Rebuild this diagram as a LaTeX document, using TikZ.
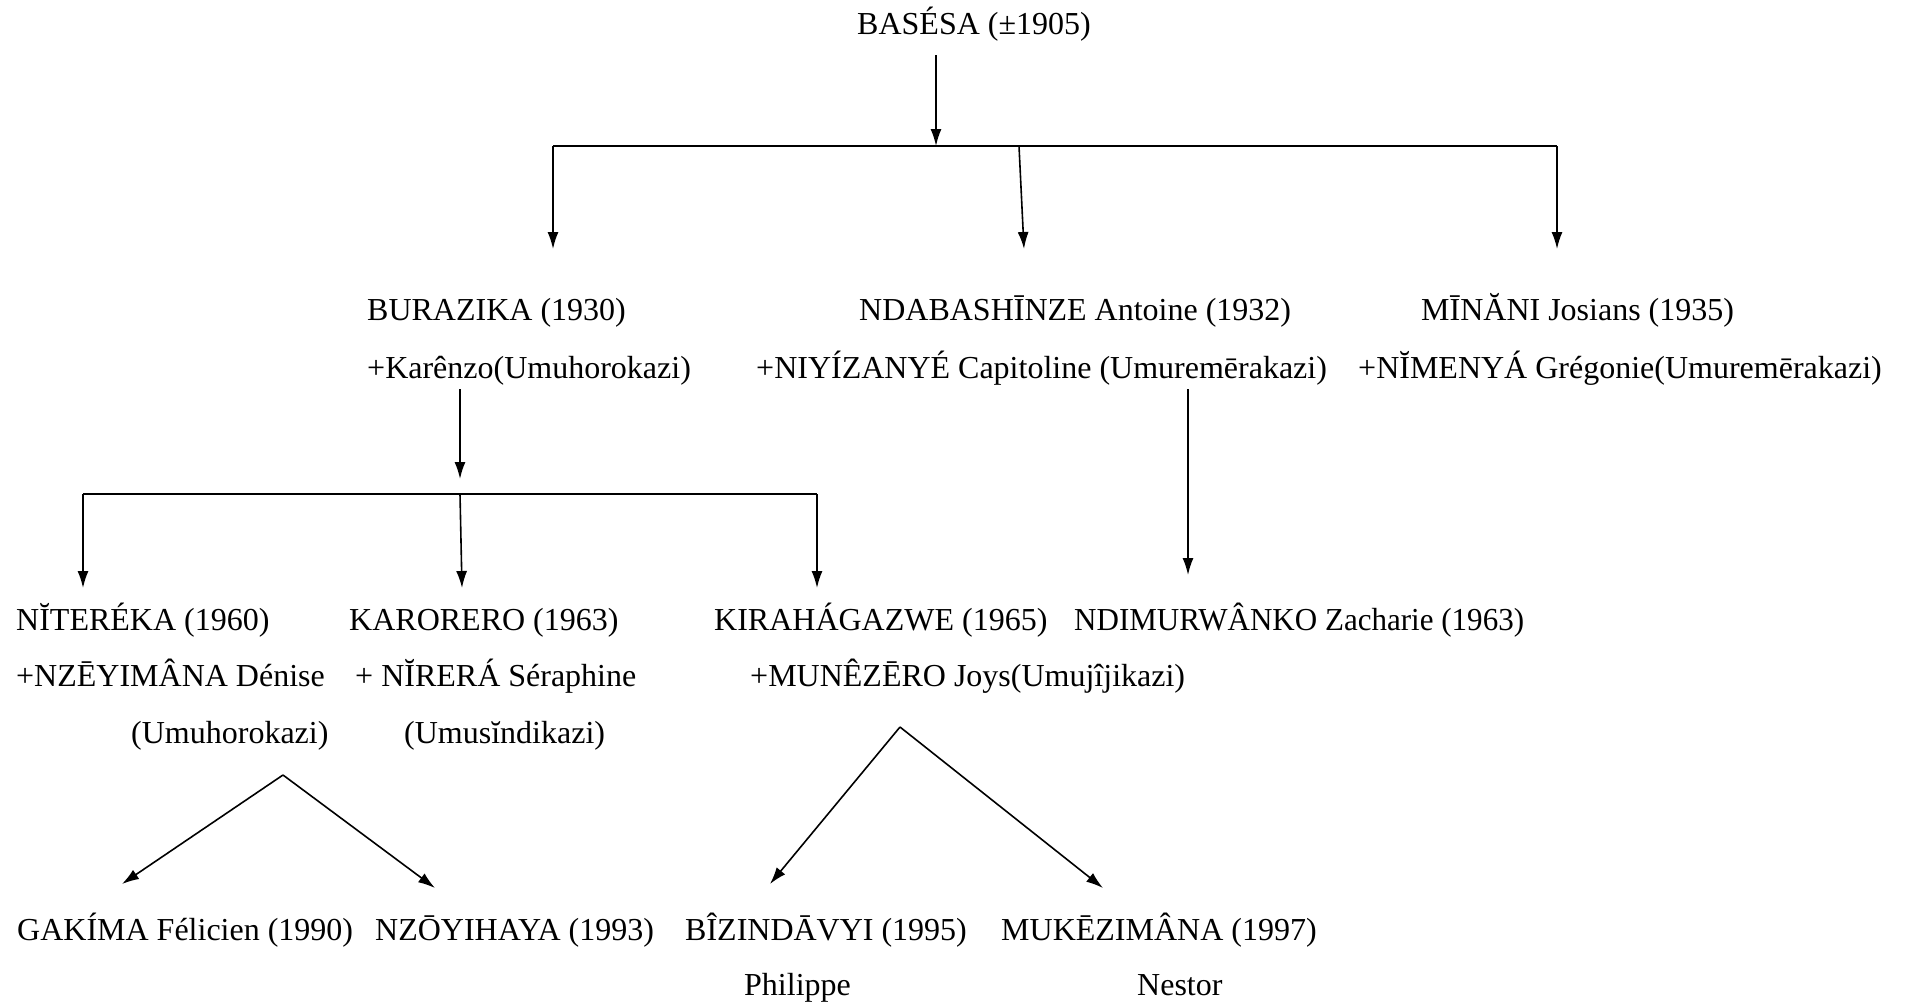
\documentclass[tikz,border=0pt]{standalone}
\usepackage{fontspec}
\setmainfont{Liberation Serif}
\usetikzlibrary{arrows.meta}

\begin{document}
\begin{tikzpicture}[x=1pt, y=-1pt,
	person/.style={anchor=base west, inner sep=0pt, font=\fontsize{32}{38}\selectfont},
	link/.style={-{Latex[length=17pt,width=11pt]}, line width=1.6pt, color=black},
	bar/.style={line width=1.6pt, color=black}]
	\useasboundingbox (0,0) rectangle (1907,1005);

	% generation 0
	\node[person](basesa) at (857,34){BASÉSA (±1905)};

	% generation 1
	\node[person](burazika) at (367,320){BURAZIKA (1930)};
	\node[person](burazikaW) at (367,378){+Karênzo(Umuhorokazi)};
	\node[person](ndaba) at (859,320){NDABASHĪNZE Antoine (1932)};
	\node[person](ndabaW) at (756,378){+NIYÍZANYÉ Capitoline (Umuremērakazi)};
	\node[person](minani) at (1421,320){MĪNĂNI Josians (1935)};
	\node[person](minaniW) at (1358,378){+NĬMENYÁ Grégonie(Umuremērakazi)};

	% generation 2
	\node[person](nitereka) at (16,630){NĬTERÉKA (1960)};
	\node[person](niterekaW) at (16,686){+NZĒYIMÂNA Dénise};
	\node[person](niterekaC) at (131,743){(Umuhorokazi)};
	\node[person](karorero) at (349,630){KARORERO (1963)};
	\node[person](karoreroW) at (355,686){+ NĬRERÁ Séraphine};
	\node[person](karoreroC) at (404,743){(Umusĭndikazi)};
	\node[person](kiraha) at (714,630){KIRAHÁGAZWE (1965)};
	\node[person](kirahaW) at (750,686){+MUNÊZĒRO Joys(Umujîjikazi)};
	\node[person, xscale=0.97](ndimur) at (1074,630){NDIMURWÂNKO Zacharie (1963)};

	% generation 3
	\node[person](gakima) at (17,940){GAKÍMA Félicien (1990)};
	\node[person](nzoyi) at (375,940){NZŌYIHAYA (1993)};
	\node[person](bizin) at (685,940){BÎZINDĀVYI (1995)};
	\node[person](bizinF) at (744,995){Philippe};
	\node[person](mukez) at (1001,940){MUKĒZIMÂNA (1997)};
	\node[person](mukezF) at (1137,995){Nestor};

	% junctions and arrow ends
	\coordinate (top0) at (936,55);
	\coordinate (top1) at (936,146);
	\coordinate (barL) at (553,146);
	\coordinate (barM) at (1019,146);
	\coordinate (barR) at (1557,146);
	\coordinate (tipL) at (553,249);
	\coordinate (tipM) at (1024,249);
	\coordinate (tipR) at (1557,249);

	\coordinate (mid0) at (460,389);
	\coordinate (mid1) at (460,479);
	\coordinate (mbarL) at (83,494);
	\coordinate (mbarM) at (460,494);
	\coordinate (mbarR) at (817,494);
	\coordinate (mtipL) at (83,588);
	\coordinate (mtipM) at (462,588);
	\coordinate (mtipR) at (817,588);

	\coordinate (nda0) at (1188,389);
	\coordinate (nda1) at (1188,575);

	\coordinate (apexA) at (283,775);
	\coordinate (tipA1) at (122,884);
	\coordinate (tipA2) at (435,888);
	\coordinate (apexB) at (900,727);
	\coordinate (tipB1) at (770,884);
	\coordinate (tipB2) at (1103,888);

	\draw [link] (top0) -- (top1);
	\draw [bar] (barL) -- (barR);
	\draw [link] (barL) -- (tipL);
	\draw [link] (barM) -- (tipM);
	\draw [link] (barR) -- (tipR);

	\draw [link] (mid0) -- (mid1);
	\draw [bar] (mbarL) -- (mbarR);
	\draw [link] (mbarL) -- (mtipL);
	\draw [link] (mbarM) -- (mtipM);
	\draw [link] (mbarR) -- (mtipR);

	\draw [link] (nda0) -- (nda1);

	\draw [link] (apexA) -- (tipA1);
	\draw [link] (apexA) -- (tipA2);
	\draw [link] (apexB) -- (tipB1);
	\draw [link] (apexB) -- (tipB2);

\end{tikzpicture}
\end{document}
